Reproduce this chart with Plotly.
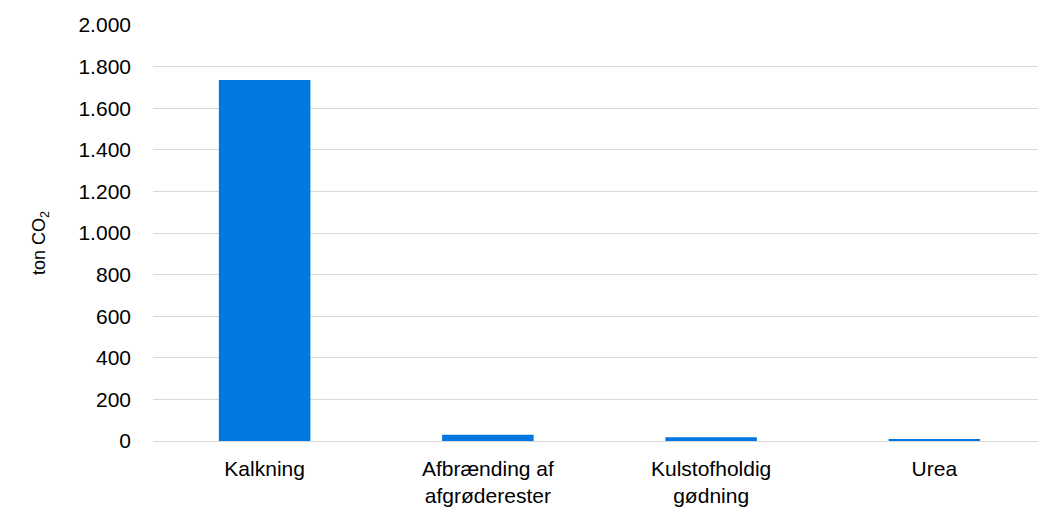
import plotly.graph_objects as go

categories = ["Kalkning", "Afbrænding af<br>afgrøderester", "Kulstofholdig<br>gødning", "Urea"]
values = [1735, 30, 18, 7]
tick_vals = [0, 200, 400, 600, 800, 1000, 1200, 1400, 1600, 1800, 2000]
tick_text = ["0", "200", "400", "600", "800", "1.000", "1.200", "1.400", "1.600", "1.800", "2.000"]

# page body has an 8px default margin; compensate so the plot lands where the reference has it
OFF = 8
W, H = 1046 - OFF, 509 - OFF
L, R, T = 153 - OFF, 0, 25 - OFF
B = H - (441 - OFF)

fig = go.Figure(go.Bar(x=categories, y=values, marker_color="#0078E0", marker_line_width=0))

fig.update_layout(
    width=W, height=H,
    margin=dict(l=L, r=R, t=T, b=B, autoexpand=False),
    plot_bgcolor="white", paper_bgcolor="white",
    bargap=0.59,
    font=dict(family="Liberation Sans, Arial, sans-serif", size=21, color="#000000"),
    showlegend=False,
)
fig.update_yaxes(
    range=[0, 2000], tickvals=tick_vals, ticktext=tick_text,
    showgrid=True, gridcolor="#d9d9d9", gridwidth=1,
    zeroline=True, zerolinecolor="#d9d9d9", zerolinewidth=1,
    showline=False, ticks="", automargin=False,
    ticklabelstandoff=21,
    tickfont=dict(size=21),
)
fig.update_xaxes(showgrid=False, showline=False, ticks="", automargin=False,
                 ticklabelstandoff=13, tickfont=dict(size=21))

fig.add_annotation(
    text="ton CO<sub>2</sub>", textangle=-90,
    xref="paper", yref="paper",
    x=(40 - OFF - L) / (W - L - R), y=((441 - OFF) - (243 - OFF)) / (H - T - B),
    xanchor="center", yanchor="middle", showarrow=False,
    font=dict(size=18),
)

fig.write_html("out.html")
